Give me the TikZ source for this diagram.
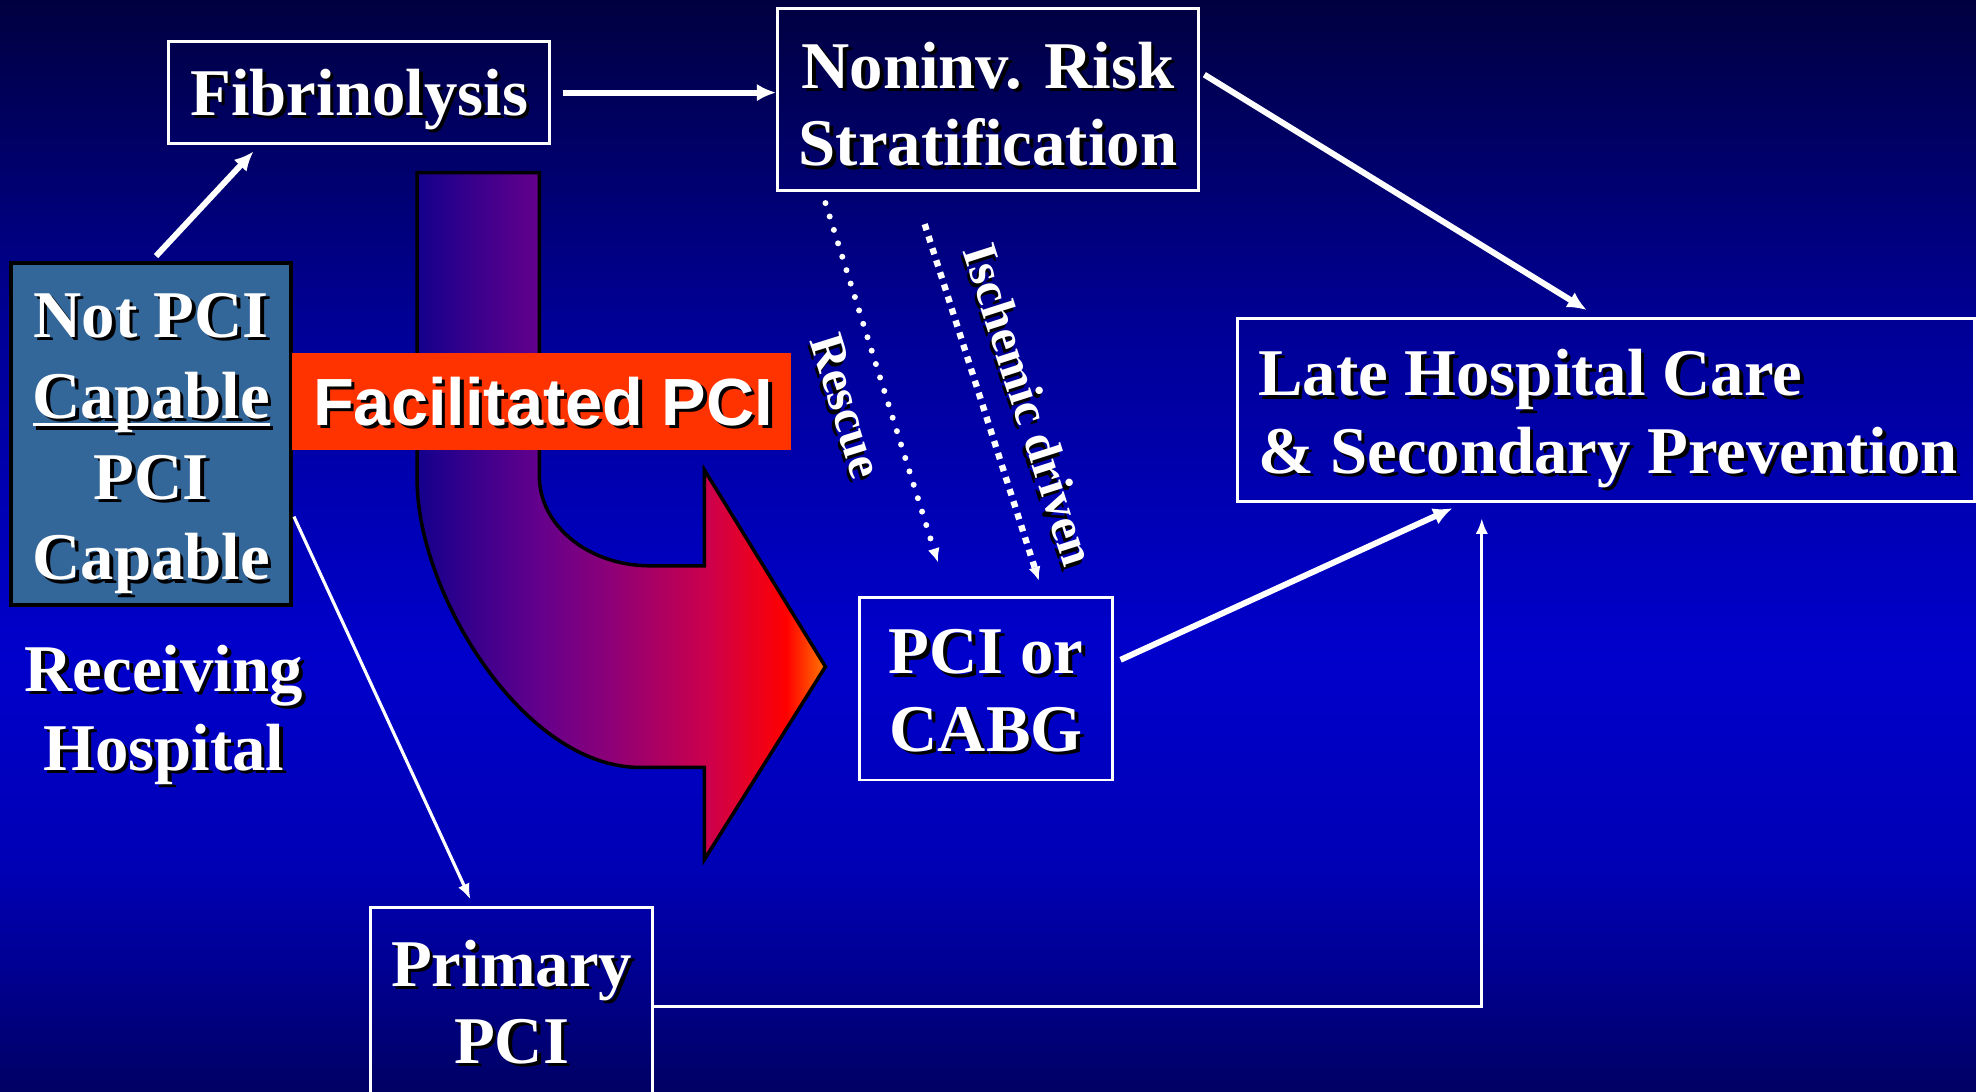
\documentclass[tikz,border=0pt]{standalone}
\usepackage{fontspec}
\setmainfont{Liberation Serif}
\newfontfamily\arialfont{Liberation Sans}
\usetikzlibrary{arrows.meta,calc}

% slide colours
\definecolor{bgtop}{RGB}{0,0,64}
\definecolor{bghigh}{RGB}{0,0,150}
\definecolor{bgmid}{RGB}{0,0,204}
\definecolor{bglow}{RGB}{0,0,180}
\definecolor{bgbot}{RGB}{0,0,100}
\definecolor{capblue}{RGB}{51,102,153}
\definecolor{facilred}{RGB}{255,51,0}
% colours of the big arrow, left to right
\definecolor{fa1}{RGB}{20,0,140}
\definecolor{fa2}{RGB}{100,0,140}
\definecolor{fa3}{RGB}{140,0,120}
\definecolor{fa4}{RGB}{205,0,75}
\definecolor{fa5}{RGB}{255,0,0}
\definecolor{fa6}{RGB}{255,120,0}

\pgfdeclareverticalshading{slidebg}{100bp}{color(0bp)=(bgbot); color(25bp)=(bgbot);
  color(35bp)=(bglow); color(45bp)=(bgmid); color(60bp)=(bghigh); color(75bp)=(bgtop); color(100bp)=(bgtop)}
\pgfdeclarehorizontalshading{facil}{100bp}{color(0bp)=(fa1); color(25bp)=(fa1);
  color(40bp)=(fa2); color(48.5bp)=(fa3); color(60.8bp)=(fa4); color(70.2bp)=(fa5); color(75bp)=(fa6); color(100bp)=(fa6)}

% white text with a black drop shadow
\newcommand{\shadowtxt}[1]{\leavevmode\rlap{\kern1pt\raisebox{-1pt}{\color{black}#1}}#1}
% tight underline
\newcommand{\ulword}[1]{\setbox0\hbox{#1}\rlap{\rule[-2.2pt]{\wd0}{1pt}}\box0}

\begin{document}
\begin{tikzpicture}[x=0.0126cm, y=-0.0126cm,
	box/.style={draw=white, line width=0.8pt, inner sep=0pt},
	txt/.style={text=white, align=center, inner sep=0pt, font=\bfseries\fontsize{19}{22}\selectfont},
	conn/.style={white, line width=1.7pt, -{Latex[length=5.5pt,width=5pt]}},
	thinconn/.style={white, line width=0.9pt, -{Latex[length=4.5pt,width=3.5pt]}},
	dots/.style={white, line width=1.7pt, line cap=round, dash pattern=on 0pt off 4pt,
		-{Latex[length=4pt,width=3.5pt]}},
	squares/.style={white, line width=1.8pt, dash pattern=on 1.8pt off 1.8pt,
		-{Latex[length=4pt,width=3.5pt]}},
	tag/.style={text=white, inner sep=6pt, font=\bfseries\fontsize{14}{16}\selectfont}]
	\def\upx{0.0126cm} % one pixel of the slide
	
	% background
	\clip (0,0) rectangle (1568,866);
	\shade[shading=slidebg] (0,0) rectangle (1568,866);
	
	% big bent arrow
	\shadedraw[shading=facil, draw=black, line width=1pt]
	(331,137) -- (331,381) .. controls (331,470) and (415,609) .. (508,609)
	-- (559,609) -- (559,682) -- (655,529) -- (559,373) -- (559,449) -- (516,449)
	.. controls (467,449) and (428,417) .. (428,378) -- (428,137) -- cycle;
	
	% boxes
	\node[box, minimum width=302*\upx, minimum height=81*\upx] (fibr) at (285,73.5) {};
	\node[box, minimum width=334*\upx, minimum height=144*\upx] (risk) at (784,79) {};
	\node[box, minimum width=585*\upx, minimum height=145*\upx] (late) at (1274.5,325.5) {};
	\node[box, minimum width=201*\upx, minimum height=145*\upx] (cabg) at (782.5,546.5) {};
	\node[box, minimum width=224*\upx, minimum height=151*\upx] (primary) at (406,795.5) {};
	\node[box, draw=black, line width=1.2pt, fill=capblue, minimum width=222*\upx,
	minimum height=271*\upx] (notpci) at (120,344.5) {};
	\node[box, draw=none, fill=facilred, minimum width=396*\upx, minimum height=77*\upx]
	(facil) at (430,318.5) {};
	
	% texts
	\node[txt] (fibrtxt) at (285,80) {\shadowtxt{Fibrinolysis}};
	\node[txt] (risktxt) at (784,84) {\shadowtxt{Noninv. Risk}\\\shadowtxt{Stratification}};
	\node[txt, align=left] (latetxt) at (1276,333.5)
	{\shadowtxt{Late Hospital Care}\\\shadowtxt{\& Secondary Prevention}};
	\node[txt] (cabgtxt) at (782.5,549.5) {\shadowtxt{PCI or}\\\shadowtxt{CABG}};
	\node[txt] (primarytxt) at (406,796.5) {\shadowtxt{Primary}\\\shadowtxt{PCI}};
	\node[txt, font=\bfseries\fontsize{19}{23}\selectfont] (notpcitxt) at (120,353.5)
	{\shadowtxt{Not PCI}\\\shadowtxt{\ulword{Capable}}\\\shadowtxt{PCI}\\\shadowtxt{Capable}};
	\node[txt, font=\bfseries\fontsize{19}{22.5}\selectfont] (recv) at (130,568.5)
	{\shadowtxt{Receiving}\\\shadowtxt{Hospital}};
	\node[txt, font=\arialfont\bfseries\fontsize{19}{22}\selectfont] (faciltxt) at (431,320)
	{\shadowtxt{Facilitated PCI}};
	
	% arrows
	\draw[conn, shorten <=2pt, shorten >=2.5pt] (notpci.north)
	-- ($(fibr.south west)!0.24!(fibr.south east)$);
	\draw[conn, shorten <=3.5pt] (fibr.east) -- (fibr.east -| risk.west);
	\draw[conn, shorten <=1.5pt, shorten >=4pt] ($(risk.north east)!0.35!(risk.south east)$)
	-- ($(late.north west)!0.49!(late.north east)$);
	\draw[conn, shorten <=2pt, shorten >=3.6pt] ($(cabg.north east)!0.36!(cabg.south east)$)
	-- ($(late.south west)!0.308!(late.south east)$);
	\draw[thinconn, shorten <=0.5pt, shorten >=2pt] ($(notpci.north east)!0.734!(notpci.south east)$)
	-- ($(primary.north west)!0.366!(primary.north east)$);
	\draw[thinconn, shorten >=4.3pt] ($(primary.north east)!0.52!(primary.south east)$)
	-| ($(late.south west)!0.332!(late.south east)$);
	
	% rescue and ischemic driven
	\draw[dots, shorten <=3.4pt, shorten >=10pt] ($(risk.south west)!0.108!(risk.south east)$)
	-- node[tag, sloped, below, pos=0.5] (rescue) {\shadowtxt{Rescue}}
	($(cabg.north west)!0.353!(cabg.north east)$);
	\draw[squares, shorten <=9.7pt, shorten >=4.5pt] ($(risk.south west)!0.326!(risk.south east)$)
	-- node[tag, sloped, above, pos=0.56] (ischemic) {\shadowtxt{Ischemic driven}}
	($(cabg.north west)!0.725!(cabg.north east)$);
\end{tikzpicture}
\end{document}
